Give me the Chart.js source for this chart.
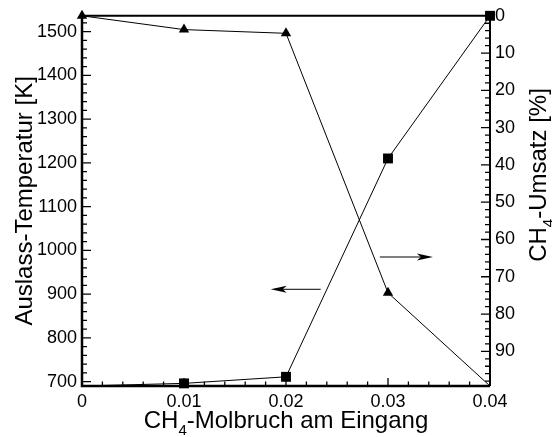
<!DOCTYPE html>
<html>
<head>
<meta charset="utf-8">
<script src="https://cdn.jsdelivr.net/npm/chart.js@4/dist/chart.umd.min.js"></script>
<style>
  html, body { margin: 0; padding: 0; background: #fff; }
  #wrap { width: 552px; height: 437px; }
</style>
</head>
<body>
<div id="wrap"><canvas id="c" width="552" height="437"></canvas></div>
<script>
// data
const molFraction = [0, 0.01, 0.02, 0.03, 0.04];
const outletTemp = [690, 696, 711, 1210, 1536];     // squares, left axis [K]
const conversion = [0, 3.7, 4.7, 74.3, 99.3];        // triangles, right axis [%] (reversed)

const xTicks = [0, 0.01, 0.02, 0.03, 0.04];
const leftTicks = [700, 800, 900, 1000, 1100, 1200, 1300, 1400, 1500];
const rightTicks = [0, 10, 20, 30, 40, 50, 60, 70, 80, 90];

const FONT = "'Liberation Sans', Arial, sans-serif";

// draws text with a subscript part, centered at (0,0) of current transform
function drawParts(ctx, parts, size) {
  const subSize = Math.round(size * 0.62);
  let total = 0;
  parts.forEach(p => {
    ctx.font = (p.sub ? subSize : size) + 'px ' + FONT;
    p.w = ctx.measureText(p.t).width;
    total += p.w;
  });
  let x = -total / 2;
  ctx.textBaseline = 'alphabetic';
  ctx.textAlign = 'left';
  parts.forEach(p => {
    ctx.font = (p.sub ? subSize : size) + 'px ' + FONT;
    ctx.fillText(p.t, x, p.sub ? size * 0.3 : 0);
    x += p.w;
  });
}

const framePlugin = {
  id: 'frame',
  afterDatasetsDraw(chart) {
    const { ctx, chartArea: a, scales } = chart;
    ctx.save();
    ctx.strokeStyle = '#000';
    ctx.fillStyle = '#000';

    // minor + major ticks, pointing inward
    ctx.lineWidth = 1.3;
    ctx.beginPath();
    for (let v = 0; v <= 0.04 + 1e-9; v += 0.002) {
      const px = scales.x.getPixelForValue(v);
      const major = Math.abs(v / 0.01 - Math.round(v / 0.01)) < 1e-6;
      ctx.moveTo(px, a.bottom);
      ctx.lineTo(px, a.bottom - (major ? 8 : 4.5));
    }
    for (let v = 700; v <= 1536; v += 20) {
      const py = scales.yL.getPixelForValue(v);
      const major = v % 100 === 0;
      ctx.moveTo(a.left, py);
      ctx.lineTo(a.left + (major ? 9 : 5), py);
    }
    for (let v = 2; v <= 99; v += 2) {
      const py = scales.yR.getPixelForValue(v);
      const major = v % 10 === 0;
      ctx.moveTo(a.right, py);
      ctx.lineTo(a.right - (major ? 9 : 5), py);
    }
    ctx.stroke();

    // frame
    ctx.lineWidth = 2.5;
    ctx.beginPath();
    ctx.moveTo(a.left, a.top);
    ctx.lineTo(a.left, a.bottom);
    ctx.lineTo(a.right, a.bottom);
    ctx.stroke();
    ctx.lineWidth = 2;
    ctx.beginPath();
    ctx.moveTo(a.right, a.bottom);
    ctx.lineTo(a.right, a.top);
    ctx.lineTo(a.left, a.top);
    ctx.stroke();

    // arrows telling which curve belongs to which axis
    const arrow = (x0, x1, y) => {
      const dir = Math.sign(x1 - x0);
      ctx.lineWidth = 1;
      ctx.beginPath();
      ctx.moveTo(x0, y);
      ctx.lineTo(x1 - dir * 10, y);
      ctx.stroke();
      ctx.beginPath();
      ctx.moveTo(x1, y);
      ctx.lineTo(x1 - dir * 16, y - 3.5);
      ctx.lineTo(x1 - dir * 12, y);
      ctx.lineTo(x1 - dir * 16, y + 3.5);
      ctx.closePath();
      ctx.fill();
    };
    arrow(scales.x.getPixelForValue(0.0234), scales.x.getPixelForValue(0.0185), scales.yL.getPixelForValue(911));
    arrow(scales.x.getPixelForValue(0.0292), scales.x.getPixelForValue(0.0344), scales.yR.getPixelForValue(64.7));

    // axis titles
    ctx.save();
    ctx.translate((a.left + a.right) / 2, 428);
    drawParts(ctx, [{ t: 'CH' }, { t: '4', sub: true }, { t: '-Molbruch am Eingang' }], 24);
    ctx.restore();

    ctx.save();
    ctx.translate(32, (a.top + a.bottom) / 2);
    ctx.rotate(-Math.PI / 2);
    drawParts(ctx, [{ t: 'Auslass-Temperatur [K]' }], 24);
    ctx.restore();

    ctx.save();
    ctx.translate(546, 175);
    ctx.rotate(-Math.PI / 2);
    drawParts(ctx, [{ t: 'CH' }, { t: '4', sub: true }, { t: '-Umsatz [%]' }], 24);
    ctx.restore();

    ctx.restore();
  }
};

const tickFont = { family: FONT, size: 18 };

new Chart(document.getElementById('c'), {
  type: 'line',
  data: {
    datasets: [
      {
        label: 'Auslass-Temperatur',
        data: molFraction.map((x, i) => ({ x, y: outletTemp[i] })),
        yAxisID: 'yL',
        borderColor: '#000',
        borderWidth: 1,
        pointStyle: 'rect',
        pointRadius: [0, 7, 7, 7, 7],
        pointBackgroundColor: '#000',
        pointBorderWidth: 0,
        tension: 0,
        clip: false
      },
      {
        label: 'CH4-Umsatz',
        data: molFraction.map((x, i) => ({ x, y: conversion[i] })),
        yAxisID: 'yR',
        borderColor: '#000',
        borderWidth: 1,
        pointStyle: 'triangle',
        pointRadius: [6, 6, 6, 6, 0],
        pointBackgroundColor: '#000',
        pointBorderWidth: 0,
        tension: 0,
        clip: false
      }
    ]
  },
  options: {
    responsive: false,
    animation: false,
    events: [],
    layout: { padding: { top: 14, left: 0, right: 0, bottom: 0 }, autoPadding: false },
    plugins: { legend: { display: false }, tooltip: { enabled: false } },
    scales: {
      x: {
        type: 'linear',
        position: 'bottom',
        min: 0,
        max: 0.04,
        grid: { display: false, drawTicks: false },
        border: { display: false },
        afterBuildTicks: s => { s.ticks = xTicks.map(v => ({ value: v })); },
        afterFit: s => { s.height = 51; },
        ticks: {
          color: '#000',
          font: tickFont,
          padding: 5,
          maxRotation: 0,
          callback: v => (v === 0 ? '0' : v.toFixed(2))
        }
      },
      yL: {
        type: 'linear',
        position: 'left',
        min: 690,
        max: 1536,
        grid: { display: false, drawTicks: false },
        border: { display: false },
        afterBuildTicks: s => { s.ticks = leftTicks.map(v => ({ value: v })); },
        afterFit: s => { s.width = 82; },
        ticks: { color: '#000', font: tickFont, padding: 5, callback: v => String(v) }
      },
      yR: {
        type: 'linear',
        position: 'right',
        reverse: true,
        min: 0,
        max: 99.3,
        grid: { display: false, drawTicks: false },
        border: { display: false },
        afterBuildTicks: s => { s.ticks = rightTicks.map(v => ({ value: v })); },
        afterFit: s => { s.width = 62; },
        ticks: { color: '#000', font: tickFont, padding: 5, callback: v => String(v) }
      }
    }
  },
  plugins: [framePlugin]
});
</script>
</body>
</html>
